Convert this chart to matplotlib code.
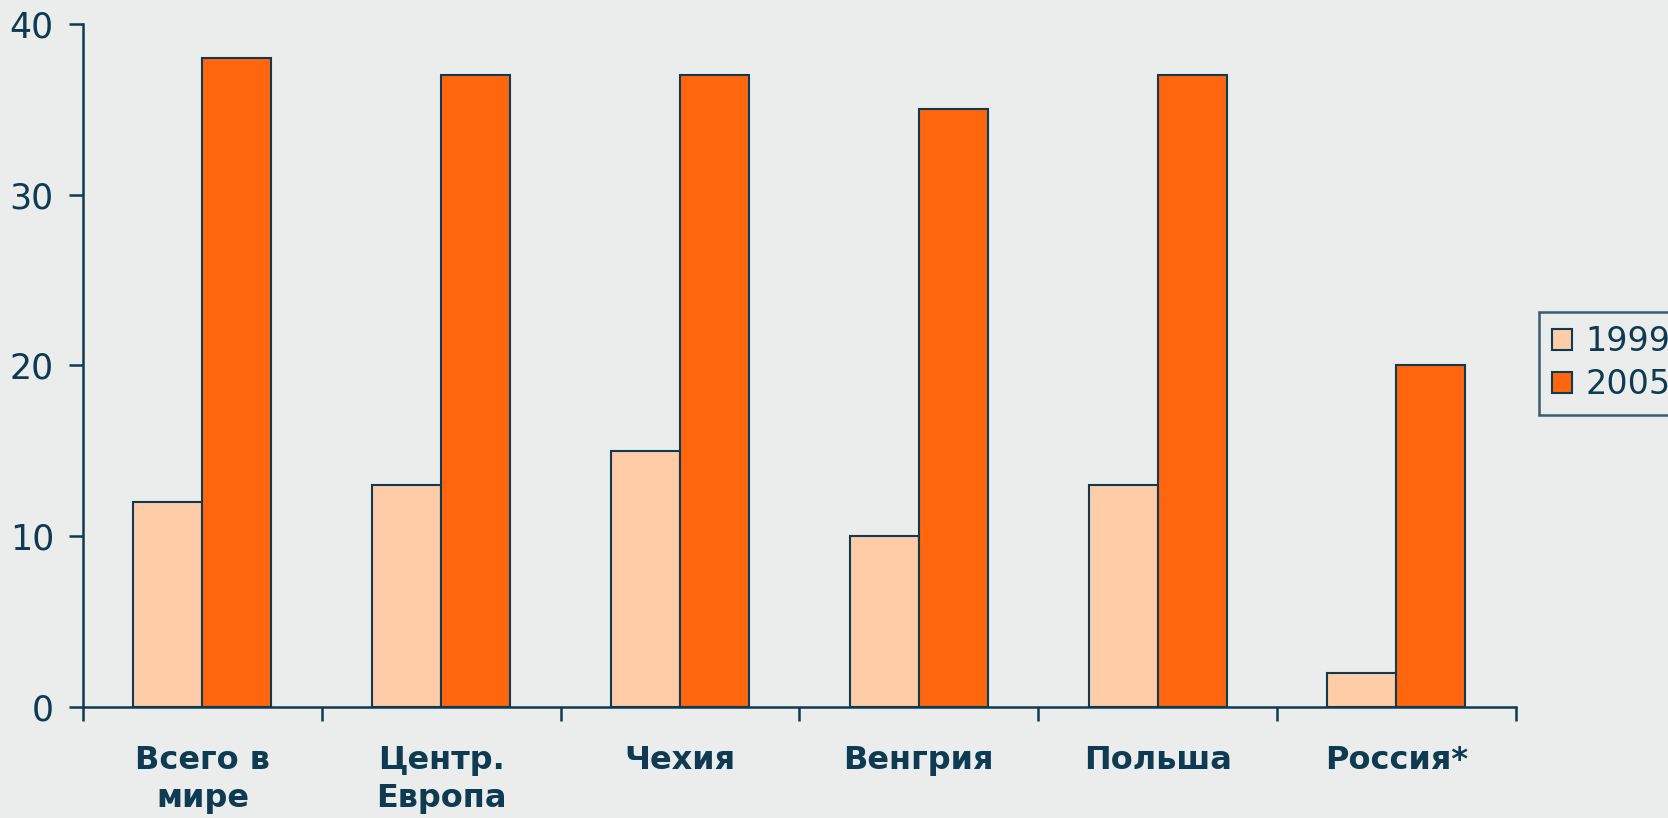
import numpy as np
import matplotlib.pyplot as plt

# Share of respondents, per region, two survey years
categories = ["Всего в\nмире", "Центр.\nЕвропа", "Чехия", "Венгрия", "Польша", "Россия*"]
values_1999 = [12, 13, 15, 10, 13, 2]
values_2005 = [38, 37, 37, 35, 37, 20]
years = ["1999", "2005"]

navy = "#0e3a52"
bg = "#ebecec"
light_orange = "#ffcca8"
orange = "#ff660e"

fig = plt.figure(figsize=(16.68, 8.18), dpi=100, facecolor=bg)
ax = fig.add_axes([0.0498, 0.1357, 0.859, 0.835], facecolor=bg)

x = np.arange(len(categories))
w = 0.289
ax.bar(x - w / 2, values_1999, w, color=light_orange, edgecolor=navy, linewidth=1.5, label=years[0])
ax.bar(x + w / 2, values_2005, w, color=orange, edgecolor=navy, linewidth=1.5, label=years[1])

ax.set_xlim(-0.5, len(categories) - 0.5)
ax.set_ylim(0, 40)
ax.set_yticks([0, 10, 20, 30, 40])

for side in ["top", "right"]:
    ax.spines[side].set_visible(False)
for side in ["left", "bottom"]:
    ax.spines[side].set_color(navy)
    ax.spines[side].set_linewidth(1.8)

# category boundaries get the tick marks, names sit centred below
ax.set_xticks(np.arange(len(categories) + 1) - 0.5)
ax.set_xticklabels([])
ax.tick_params(axis="x", length=10, width=1.8, color=navy, direction="out")
ax.tick_params(axis="y", length=10, width=1.8, color=navy, labelsize=25,
               labelcolor=navy, pad=11)
for xi, name in zip(x, categories):
    ax.text(xi, -2.2, name, ha="center", va="top", fontsize=23, fontweight="bold",
            color=navy, linespacing=1.3)

# legend box sits against the right edge, the year labels run past it
leg = ax.legend(loc="upper left", bbox_to_anchor=(1539 / 1668, 1 - 312 / 818),
                bbox_transform=fig.transFigure, fontsize=24, frameon=True,
                fancybox=False, edgecolor=navy, facecolor=bg, handlelength=0.6,
                handleheight=0.6, handletextpad=0.4, borderpad=0.4, labelspacing=0.3,
                borderaxespad=0)
leg.get_frame().set_linewidth(1.8)
for t in leg.get_texts():
    t.set_color(navy)

fig.savefig("out.png", dpi=100, facecolor=bg)
